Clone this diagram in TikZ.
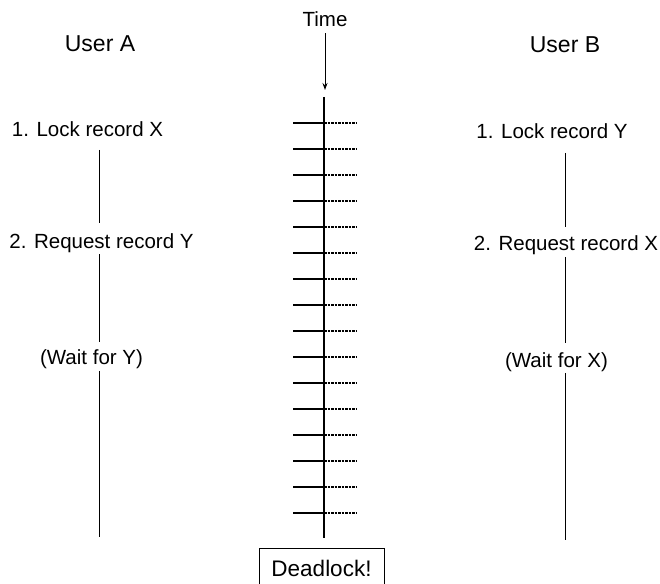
\documentclass[tikz,border=0pt]{standalone}
\usepackage{fontspec}
\setmainfont{Liberation Sans}
\usetikzlibrary{arrows,arrows.meta,positioning,calc}

\begin{document}
\begin{tikzpicture}[x=1pt, y=-1pt,
    lbl/.style={font=\fontsize{20.5}{24}\selectfont, text height=15pt, text depth=4.5pt, inner sep=0pt},
    head/.style={font=\fontsize{23}{27}\selectfont, inner sep=0pt},
    lane/.style={line width=1pt},
    tickmark/.style={line width=1.2pt}]
    \useasboundingbox (0,0) rectangle (660,583);

    % Column headers
    \node[head] (userA) at (100,44) {User A};
    \node[head] (userB) at (565,45) {User B};
    \node[lbl] (time) at (325,21.5) {Time};

    % User A
    \node[lbl] (a1) at (87.5,131) {1. Lock record X};
    \node[lbl] (a2) at (101.5,243) {2. Request record Y};
    \node[lbl] (a3) at (91.5,359) {(Wait for Y)};
    \coordinate (aend) at (99,537);
    \draw[lane, shorten <=9pt, shorten >=10pt] (a1.south -| aend) -- (a2.north -| aend);
    \draw[lane, shorten <=1.5pt, shorten >=7pt] (a2.south -| aend) -- (a3.north -| aend);
    \draw[lane, shorten <=2pt] (a3.south -| aend) -- (aend);

    % User B
    \node[lbl] (b1) at (552,133) {1. Lock record Y};
    \node[lbl] (b2) at (566,245) {2. Request record X};
    \node[lbl] (b3) at (556.5,362) {(Wait for X)};
    \coordinate (bend) at (565,540);
    \draw[lane, shorten <=10pt, shorten >=8pt] (b1.south -| bend) -- (b2.north -| bend);
    \draw[lane, shorten <=2pt, shorten >=9pt] (b2.south -| bend) -- (b3.north -| bend);
    \draw[lane, shorten <=1pt] (b3.south -| bend) -- (bend);

    % Time axis
    \coordinate (tarrow) at (325,90);
    \coordinate (ttop) at (324,97);
    \node[lbl, font=\fontsize{22.5}{26}\selectfont, text height=16.5pt, text depth=5pt, draw, line width=0.9pt,
          minimum width=125pt, minimum height=46pt] (dead) at (321.5,571) {Deadlock!};
    \draw[-{Stealth[length=7pt,width=5pt]}, line width=1pt, shorten <=2pt] (time.south) -- (tarrow);
    \draw[line width=1.5pt, shorten >=10pt] (ttop) -- (ttop |- dead.north);
    \foreach \i in {0,...,15} {
        \draw[tickmark] ($(ttop)+(-31,{26*\i+26})$) -- ++(31,0);
        \draw[line width=1.2pt, dash pattern=on 2.5pt off 1pt] ($(ttop)+(0,{26*\i+26})$) -- ++(33,0);
    }
\end{tikzpicture}
\end{document}
